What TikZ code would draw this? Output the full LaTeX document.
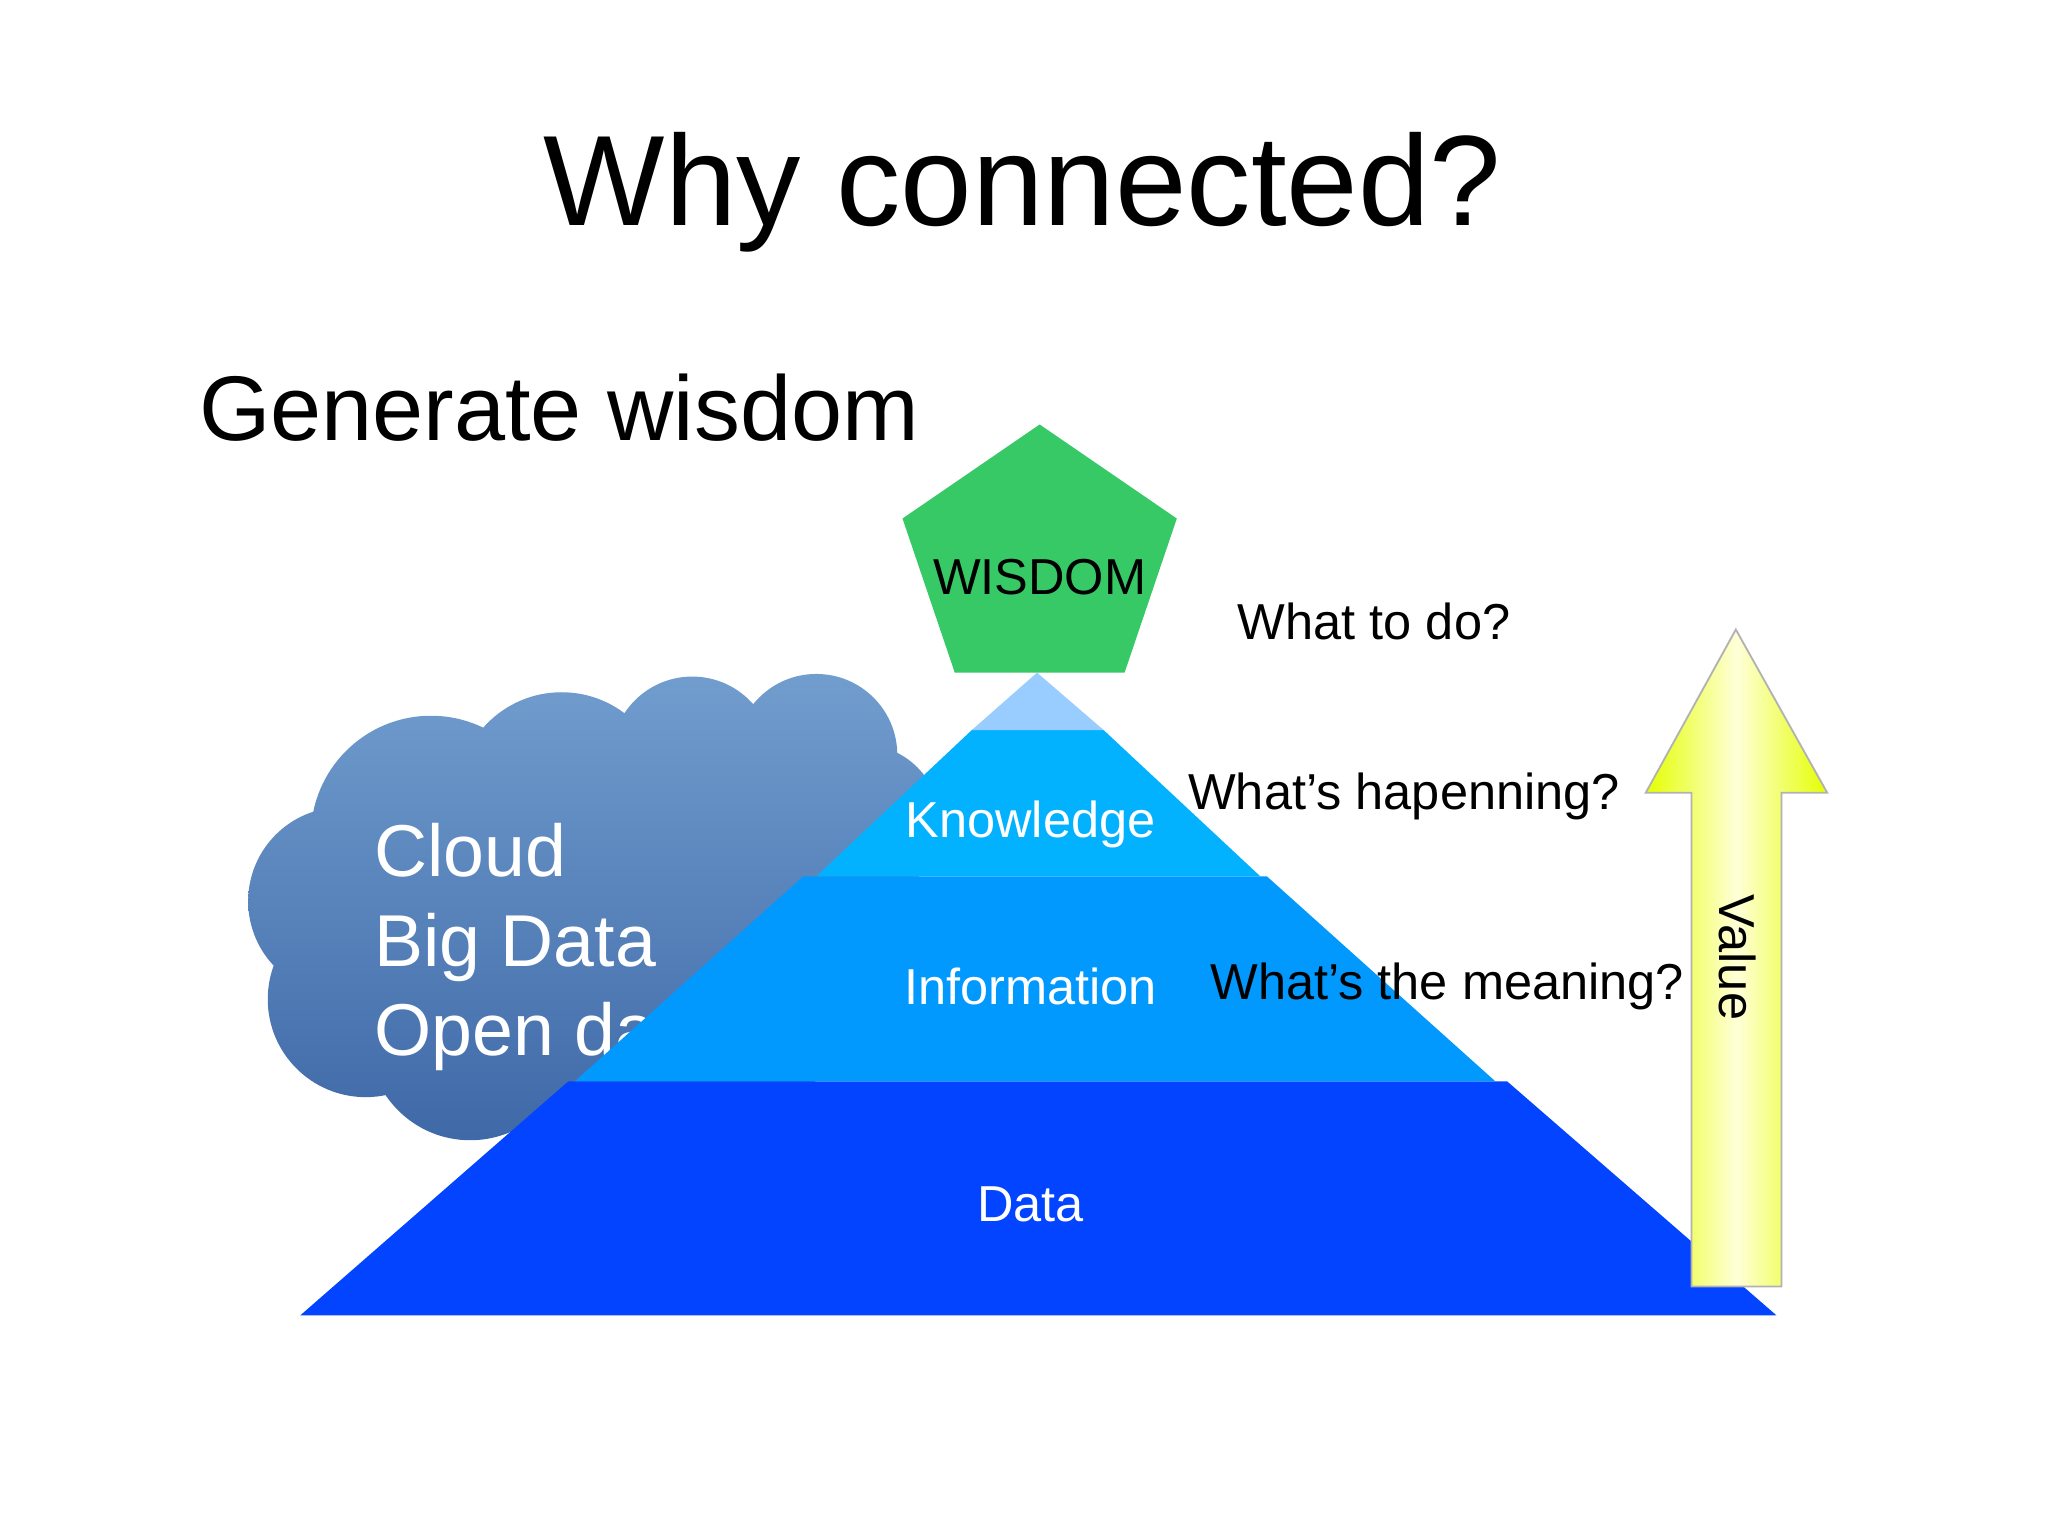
\documentclass[tikz,border=0pt]{standalone}
\usepackage{fontspec}
\setmainfont{Liberation Sans}
\begin{document}
\begin{tikzpicture}[x=0.01cm,y=-0.01cm,
  lbl/.style={font=\fontsize{11}{13}\selectfont,text=black},
  wl/.style={font=\fontsize{11}{13}\selectfont,text=white}]
\useasboundingbox[fill=white] (0,0) rectangle (1568,1176);
\definecolor{cl1}{HTML}{739FD0}\definecolor{cl2}{HTML}{3E68A6}
\node (title) at (783,147) {\fontsize{28}{32}\selectfont Why connected?};
\node[anchor=west] (gen) at (140,312) {\fontsize{20}{24}\selectfont Generate wisdom};
% cloud
\begin{scope}
\clip (330,640) circle (92) (430,610) circle (80) (530,580) circle (62) (625,578) circle (62)
 (262,690) circle (72) (280,765) circle (75) (360,795) circle (78) (520,720) circle (150)
 (660,630) circle (60) (700,620) circle (25);
\shade[top color=cl1,bottom color=cl2] (150,500) rectangle (760,880);
\end{scope}
\node[anchor=north west,align=left,text=white,font=\fontsize{16}{19.5}\selectfont] (cloud) at (274,618) {Cloud\\Big Data\\Open data};
% pyramid
\fill[fill=blue!0!white,fill={rgb,255:red,2;green,68;blue,255}] (435,828) -- (1154,828) -- (1360,1007) -- (230,1007) -- cycle;
\fill[fill={rgb,255:red,2;green,153;blue,255}] (615,671) -- (970,671) -- (1145,828) -- (440,828) -- cycle;
\fill[fill={rgb,255:red,2;green,178;blue,255}] (744,559) -- (845,559) -- (965,671) -- (625,671) -- cycle;
\fill[fill={rgb,255:red,153;green,204;blue,255}] (794,515) -- (845,559) -- (744,559) -- cycle;
\node[wl] (data) at (789,922) {Data};
\node[wl] (info) at (789,755) {Information};
\node[wl] (know) at (789,631) {Knowledge};
% pentagon
\fill[fill={rgb,255:red,54;green,201;blue,102}] (796,325) -- (901,397) -- (861,515) -- (731,515) -- (691,397) -- cycle;
\node[lbl] (wis) at (796,442) {WISDOM};
% arrow
\definecolor{ay}{HTML}{E4FF00}\definecolor{ap}{HTML}{FFFFD8}
\shade[left color=ay,right color=ay,middle color=ap,draw=gray!60,line width=0.4pt]
 (1295,985) -- (1295,607) -- (1260,607) -- (1329,482) -- (1399,607) -- (1364,607) -- (1364,985) -- cycle;
\node[lbl,rotate=-90] (val) at (1330,733) {Value};
\node[lbl] (q1) at (1052,476) {What to do?};
\node[lbl] (q2) at (1075,610) {What's hapenning?};
\node[lbl] (q3) at (1108,755) {What's the meaning?};
\end{tikzpicture}
\end{document}
